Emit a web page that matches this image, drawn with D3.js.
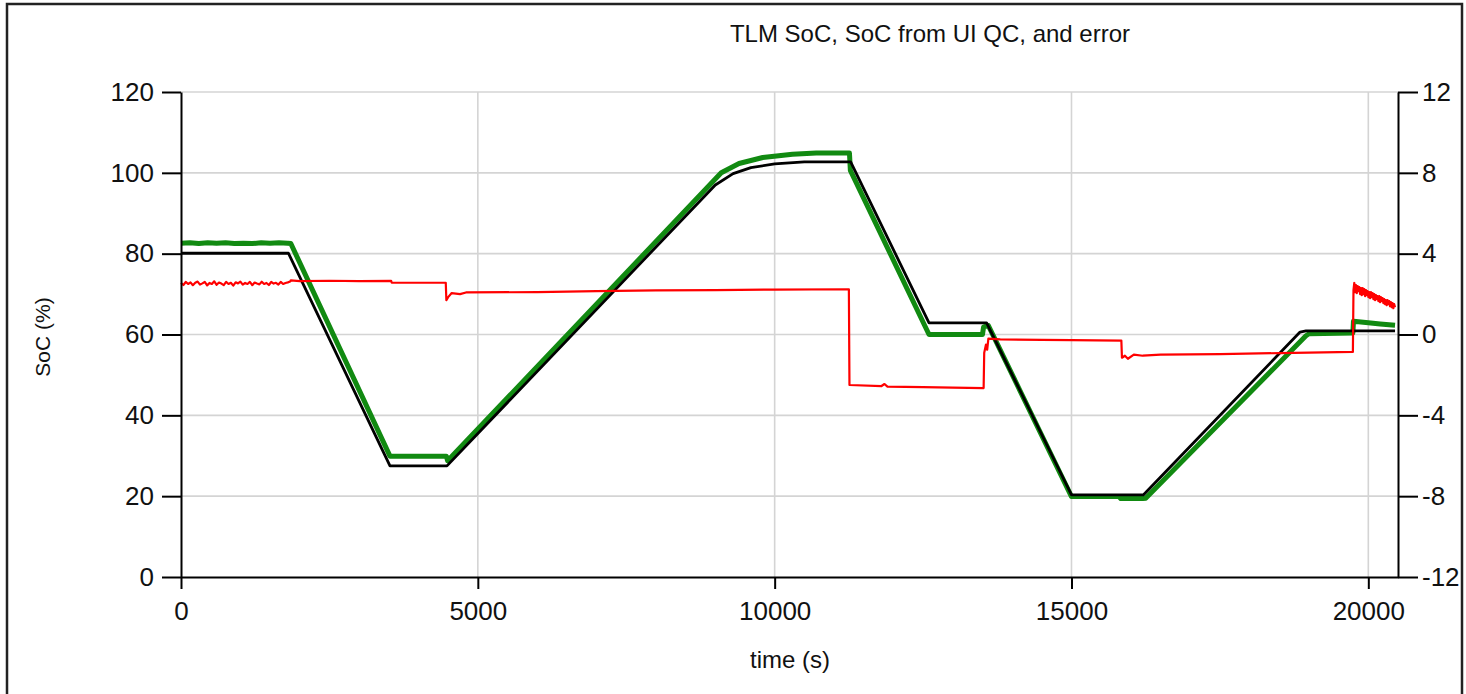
<!DOCTYPE html>
<html>
<head>
<meta charset="utf-8">
<script src="https://cdn.jsdelivr.net/npm/d3@7"></script>
<style>
  html, body { margin: 0; padding: 0; background: #fff; }
  svg { display: block; }
  text { font-family: "Liberation Sans", Arial, sans-serif; fill: #111; }
</style>
</head>
<body>
<svg id="chart" width="1466" height="694"></svg>
<script>
// ---- data -------------------------------------------------------------
const chartTitle = "TLM SoC, SoC from UI QC, and error";
const xTicks = [0, 5000, 10000, 15000, 20000];
const yLeftTicks = [0, 20, 40, 60, 80, 100, 120];
const yRightTicks = [-12, -8, -4, 0, 4, 8, 12];

// TLM SoC [%] (black)
const tlmTime = [0, 1810, 3520, 4480, 9000, 9300, 9600, 10000, 10500, 11280, 12600, 13570, 15000, 16210, 18850, 18950, 20450];
const tlmSoc  = [80.1, 80.1, 27.5, 27.5, 97.0, 99.8, 101.3, 102.2, 102.7, 102.7, 62.9, 62.9, 20.3, 20.3, 60.6, 60.9, 60.9];

// SoC from UI QC [%] (green)
const qcTime = [0, 150, 300, 450, 600, 750, 900, 1050, 1200, 1350, 1500, 1650, 1800, 1850,
  3520, 4470, 4490, 4560, 9100, 9400, 9800, 10300, 10700, 11260, 11275,
  12600, 13500, 13520, 13600, 15000, 15800, 15830, 16200, 16250, 18950, 19000,
  19740, 19750, 20000, 20200, 20450];
const qcSoc = [82.6, 82.7, 82.5, 82.7, 82.6, 82.7, 82.5, 82.6, 82.5, 82.7, 82.6, 82.7, 82.6, 82.5,
  29.9, 29.9, 28.8, 29.8, 100.0, 102.3, 103.8, 104.6, 104.9, 104.9, 100.6,
  60.0, 60.0, 61.9, 62.2, 19.9, 19.9, 19.4, 19.4, 19.5, 59.7, 60.2,
  60.4, 63.3, 62.9, 62.6, 62.3];

// error [%] (red, right axis)
// first logged stretch, one sample every 40 s from t = 0
const errHeadStep = 40;
const errHead = [2.55, 2.45, 2.6, 2.5, 2.58, 2.44, 2.56, 2.62, 2.47, 2.53,
  2.6, 2.43, 2.55, 2.5, 2.63, 2.46, 2.57, 2.52, 2.44, 2.6,
  2.5, 2.56, 2.42, 2.58, 2.53, 2.62, 2.47, 2.55, 2.5, 2.6,
  2.44, 2.57, 2.52, 2.48, 2.61, 2.5, 2.55, 2.45, 2.6, 2.52,
  2.56, 2.47, 2.6, 2.5, 2.55, 2.58, 2.62];
// middle stretch, irregular times
const errMidTime = [1850, 2000, 2500, 3000, 3540, 3550, 4460, 4470, 4500, 4560, 4700, 4800, 6000, 7000, 8000, 9000, 10000, 11250,
  11260, 11800, 11850, 11900, 12500, 13000, 13520, 13530, 13560, 13580, 13600, 13800, 14500, 15000, 15840,
  15850, 15900, 15950, 16050, 16200, 16500, 17500, 18500, 19740];
const errMid = [2.68, 2.64, 2.66, 2.64, 2.65, 2.56, 2.56, 1.7, 1.85, 2.05, 2.0, 2.08, 2.1, 2.15, 2.18, 2.2, 2.22, 2.24,
  -2.5, -2.55, -2.45, -2.58, -2.6, -2.63, -2.65, -0.9, -0.5, -0.75, -0.2, -0.24, -0.27, -0.28, -0.3,
  -1.15, -1.05, -1.2, -1.0, -1.05, -1.0, -0.97, -0.92, -0.86];
// last stretch, one sample every 14 s from t = 19750
const errTailStart = 19750;
const errTailStep = 14;
const errTail = [2.2, 2.55, 2.1, 2.45, 2.05, 2.4, 2.15, 2.35, 2.0, 2.3,
  1.95, 2.3, 2.0, 2.25, 1.9, 2.2, 1.95, 2.15, 1.85, 2.1,
  1.8, 2.1, 1.85, 2.05, 1.75, 2.0, 1.7, 1.95, 1.75, 1.9,
  1.65, 1.9, 1.6, 1.85, 1.65, 1.8, 1.55, 1.75, 1.5, 1.7,
  1.45, 1.7, 1.5, 1.65, 1.4, 1.6, 1.35, 1.55, 1.3, 1.5, 1.35];

// ---- layout -----------------------------------------------------------
const svg = d3.select("#chart");
const plot = { left: 181, right: 1398, top: 92, bottom: 577 };

const x = d3.scaleLinear().domain([0, 20500]).range([plot.left, plot.right]);
const yL = d3.scaleLinear().domain([0, 120]).range([plot.bottom, plot.top]);
const yR = d3.scaleLinear().domain([-12, 12]).range([plot.bottom, plot.top]);

// outer frame
svg.append("rect")
  .attr("x", 7).attr("y", 4).attr("width", 1455).attr("height", 720)
  .attr("fill", "#fff").attr("stroke", "#222").attr("stroke-width", 2.5);

// grid
const grid = svg.append("g").attr("stroke", "#d4d4d4").attr("stroke-width", 1.6);
grid.selectAll("line.h").data(yLeftTicks.filter(d => d > 0)).join("line")
  .attr("x1", plot.left).attr("x2", plot.right)
  .attr("y1", d => yL(d)).attr("y2", d => yL(d));
grid.selectAll("line.v").data(xTicks.filter(d => d > 0)).join("line")
  .attr("x1", d => x(d)).attr("x2", d => x(d))
  .attr("y1", plot.top).attr("y2", plot.bottom);

// series
const pts = (ts, vs) => ts.map((t, i) => [t, vs[i]]);
const errPoints = [
  ...errHead.map((v, i) => [i * errHeadStep, v]),
  ...pts(errMidTime, errMid),
  ...errTail.map((v, i) => [errTailStart + i * errTailStep, v])
];
const lineL = d3.line().x(d => x(d[0])).y(d => yL(d[1]));
const lineR = d3.line().x(d => x(d[0])).y(d => yR(d[1]));

svg.append("path").datum(pts(qcTime, qcSoc)).attr("d", lineL)
  .attr("fill", "none").attr("stroke", "#118a11").attr("stroke-width", 5)
  .attr("stroke-linejoin", "round");
svg.append("path").datum(pts(tlmTime, tlmSoc)).attr("d", lineL)
  .attr("fill", "none").attr("stroke", "#000").attr("stroke-width", 2.8)
  .attr("stroke-linejoin", "round");
svg.append("path").datum(errPoints).attr("d", lineR)
  .attr("fill", "none").attr("stroke", "#ff0000").attr("stroke-width", 2.2)
  .attr("stroke-linejoin", "round");

// axes
const plain = d => String(d);
function styleAxis(g) {
  g.select(".domain").attr("stroke", "#000").attr("stroke-width", 2);
  g.selectAll(".tick line").attr("stroke", "#000").attr("stroke-width", 2);
  g.selectAll(".tick text").attr("font-size", 26).attr("fill", "#111")
    .attr("font-family", "'Liberation Sans', Arial, sans-serif");
}

svg.append("g").attr("transform", `translate(${plot.left},0)`)
  .call(d3.axisLeft(yL).tickValues(yLeftTicks).tickFormat(plain).tickSize(19).tickSizeOuter(0).tickPadding(8))
  .call(styleAxis);

svg.append("g").attr("transform", `translate(${plot.right},0)`)
  .call(d3.axisRight(yR).tickValues(yRightTicks).tickFormat(plain).tickSize(20).tickSizeOuter(0).tickPadding(4))
  .call(styleAxis);

svg.append("g").attr("transform", `translate(0,${plot.bottom})`)
  .call(d3.axisBottom(x).tickValues(xTicks).tickFormat(plain).tickSize(12).tickSizeOuter(0).tickPadding(13))
  .call(styleAxis);

// titles
svg.append("text").attr("x", 930).attr("y", 42).attr("text-anchor", "middle")
  .attr("font-size", 24).text(chartTitle);
svg.append("text").attr("x", 790).attr("y", 668).attr("text-anchor", "middle")
  .attr("font-size", 24).text("time (s)");
svg.append("text").attr("transform", "translate(50,337) rotate(-90)")
  .attr("text-anchor", "middle").attr("font-size", 21).text("SoC (%)");
</script>
</body>
</html>
